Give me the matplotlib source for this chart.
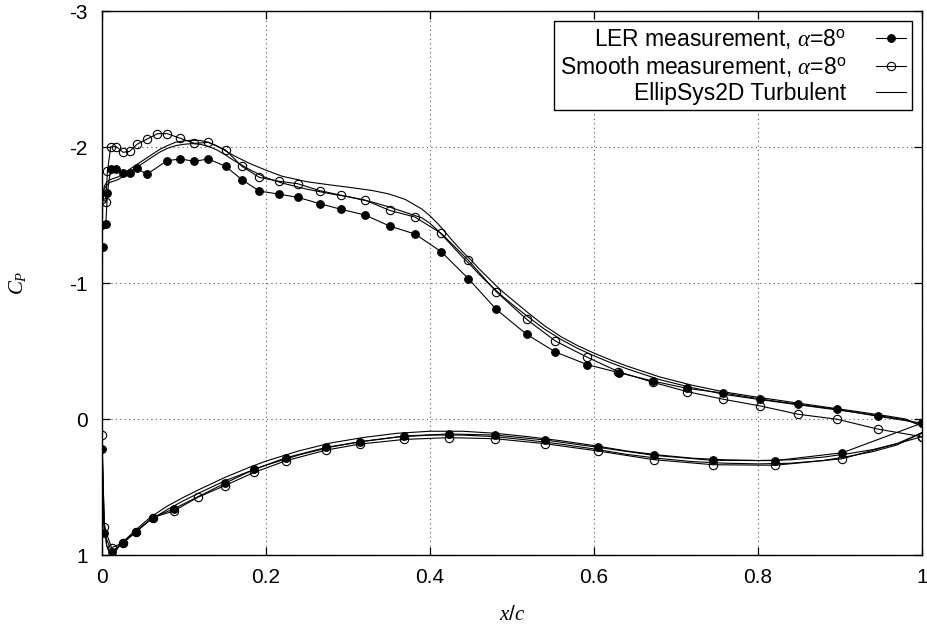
import matplotlib
matplotlib.use("Agg")
import numpy as np
import matplotlib.pyplot as plt
from matplotlib.lines import Line2D

plt.rcParams['font.family'] = ['Liberation Sans', 'DejaVu Sans']
plt.rcParams['mathtext.fontset'] = 'custom'
plt.rcParams['mathtext.rm'] = 'Liberation Sans'
plt.rcParams['mathtext.it'] = 'Liberation Serif:italic'
plt.rcParams['mathtext.cal'] = 'Liberation Serif:italic'
plt.rcParams['axes.unicode_minus'] = False

# LER measurement (filled), upper surface from TE to LE, lower surface from LE to TE
ler_up_x = [1.0, 0.946, 0.897, 0.849, 0.803, 0.758, 0.714, 0.672, 0.631, 0.592,
            0.553, 0.518, 0.481, 0.447, 0.414, 0.382, 0.351, 0.321, 0.292, 0.266,
            0.239, 0.216, 0.192, 0.171, 0.151, 0.130, 0.113, 0.096, 0.080, 0.055,
            0.043, 0.034, 0.026, 0.018, 0.011, 0.007, 0.005, 0.0, 0.001]
ler_up_cp = [0.03, -0.02, -0.071, -0.108, -0.147, -0.191, -0.225, -0.279, -0.34, -0.40,
             -0.493, -0.623, -0.806, -1.032, -1.23, -1.36, -1.419, -1.50, -1.542, -1.583,
             -1.63, -1.654, -1.676, -1.76, -1.858, -1.912, -1.895, -1.912, -1.90, -1.80,
             -1.843, -1.811, -1.811, -1.84, -1.84, -1.664, -1.434, -1.424, -1.267]
ler_lo_x = [0.0, 0.003, 0.012, 0.026, 0.042, 0.062, 0.088, 0.150, 0.186, 0.225,
            0.274, 0.315, 0.369, 0.423, 0.480, 0.540, 0.605, 0.673, 0.745, 0.821,
            0.903, 1.0]
ler_lo_cp = [0.223, 0.84, 0.975, 0.91, 0.828, 0.725, 0.66, 0.473, 0.37, 0.284,
             0.208, 0.167, 0.125, 0.110, 0.118, 0.154, 0.208, 0.267, 0.304, 0.306,
             0.248, 0.03]

# smooth measurement (open)
smo_up_x = [1.0, 0.946, 0.897, 0.849, 0.803, 0.758, 0.714, 0.672, 0.630, 0.592,
            0.553, 0.518, 0.481, 0.447, 0.414, 0.382, 0.351, 0.321, 0.292, 0.266,
            0.239, 0.216, 0.192, 0.171, 0.151, 0.130, 0.113, 0.096, 0.080, 0.068,
            0.055, 0.043, 0.034, 0.026, 0.018, 0.011, 0.007, 0.005, 0.0]
smo_up_cp = [0.13, 0.074, 0.002, -0.035, -0.096, -0.145, -0.201, -0.27, -0.348, -0.454,
             -0.574, -0.733, -0.936, -1.167, -1.365, -1.485, -1.534, -1.61, -1.645, -1.679,
             -1.73, -1.748, -1.777, -1.858, -1.978, -2.034, -2.027, -2.064, -2.098, -2.098,
             -2.057, -2.02, -1.968, -1.961, -2.002, -2.002, -1.824, -1.596, -1.62]
smo_lo_x = [0.0, 0.003, 0.012, 0.026, 0.042, 0.062, 0.088, 0.117, 0.150, 0.186,
            0.225, 0.274, 0.315, 0.369, 0.423, 0.480, 0.540, 0.605, 0.673, 0.745,
            0.821, 0.903, 1.0]
smo_lo_cp = [0.118, 0.792, 0.946, 0.91, 0.83, 0.725, 0.676, 0.576, 0.49, 0.392,
             0.306, 0.228, 0.184, 0.15, 0.137, 0.145, 0.181, 0.235, 0.299, 0.336,
             0.34, 0.292, 0.13]

# EllipSys2D turbulent computations
cfd_up_x = [0.0, 0.001, 0.003, 0.006, 0.01, 0.02, 0.03, 0.04, 0.05, 0.06,
            0.07, 0.08, 0.09, 0.10, 0.11, 0.12, 0.13, 0.14, 0.15, 0.16,
            0.18, 0.20, 0.22, 0.25, 0.28, 0.30, 0.33, 0.35, 0.37, 0.39,
            0.40, 0.41, 0.42, 0.43, 0.44, 0.45, 0.46, 0.47, 0.48, 0.49,
            0.50, 0.52, 0.54, 0.56, 0.58, 0.60, 0.62, 0.64, 0.68, 0.72,
            0.76, 0.80, 0.84, 0.88, 0.92, 0.96, 0.98, 1.0]
cfd_a_up_cp = [-0.3, -1.60, -1.71, -1.74, -1.76, -1.78, -1.82, -1.86, -1.90, -1.94,
               -1.98, -2.01, -2.035, -2.045, -2.05, -2.048, -2.035, -2.01, -1.975, -1.94,
               -1.88, -1.83, -1.785, -1.745, -1.72, -1.705, -1.68, -1.655, -1.615, -1.545,
               -1.495, -1.435, -1.365, -1.295, -1.23, -1.17, -1.105, -1.045, -0.985, -0.93,
               -0.88, -0.78, -0.685, -0.605, -0.54, -0.485, -0.435, -0.39, -0.31, -0.248,
               -0.198, -0.16, -0.125, -0.09, -0.056, -0.02, 0.0, 0.05]
cfd_b_up_cp = [-0.3, -1.58, -1.69, -1.72, -1.74, -1.76, -1.80, -1.84, -1.88, -1.92,
               -1.96, -1.99, -2.01, -2.02, -2.025, -2.02, -2.005, -1.98, -1.945, -1.905,
               -1.835, -1.775, -1.735, -1.69, -1.655, -1.635, -1.595, -1.56, -1.52, -1.48,
               -1.44, -1.385, -1.32, -1.255, -1.19, -1.13, -1.065, -1.005, -0.95, -0.895,
               -0.845, -0.75, -0.66, -0.585, -0.52, -0.465, -0.415, -0.37, -0.29, -0.23,
               -0.18, -0.145, -0.112, -0.08, -0.048, -0.013, 0.007, 0.05]
cfd_lo_x = [0.0, 0.001, 0.003, 0.006, 0.01, 0.014, 0.02, 0.03, 0.04, 0.05,
            0.06, 0.08, 0.10, 0.12, 0.15, 0.18, 0.20, 0.24, 0.28, 0.32,
            0.36, 0.40, 0.44, 0.48, 0.52, 0.56, 0.60, 0.64, 0.68, 0.72,
            0.76, 0.80, 0.84, 0.88, 0.91, 0.94, 0.97, 1.0]
cfd_a_lo_cp = [-0.3, 0.30, 0.75, 0.93, 0.99, 1.0, 0.94, 0.88, 0.825, 0.77,
               0.72, 0.64, 0.575, 0.515, 0.43, 0.355, 0.31, 0.235, 0.175, 0.135,
               0.105, 0.09, 0.09, 0.105, 0.13, 0.16, 0.195, 0.235, 0.265, 0.288,
               0.30, 0.305, 0.30, 0.28, 0.255, 0.225, 0.18, 0.1]
cfd_b_lo_cp = [-0.3, 0.30, 0.75, 0.93, 0.99, 1.0, 0.945, 0.89, 0.835, 0.785,
               0.74, 0.665, 0.60, 0.54, 0.455, 0.385, 0.34, 0.265, 0.205, 0.163,
               0.133, 0.118, 0.118, 0.13, 0.155, 0.185, 0.22, 0.26, 0.29, 0.313,
               0.325, 0.33, 0.325, 0.305, 0.275, 0.24, 0.19, 0.1]

fig = plt.figure(figsize=(9.28, 6.26), dpi=100)
ax = fig.add_axes([0.1096, 0.1134, 0.8839, 0.8690])

lw = 0.8
ax.plot(ler_up_x + ler_lo_x, ler_up_cp + ler_lo_cp, '-o', color='black', lw=lw,
        ms=5.5, mfc='black', mec='black', mew=0.8)
ax.plot(smo_up_x + smo_lo_x, smo_up_cp + smo_lo_cp, '-o', color='black', lw=lw,
        ms=6, mfc='none', mec='black', mew=0.8)
ax.plot(cfd_up_x[::-1] + cfd_lo_x, cfd_a_up_cp[::-1] + cfd_a_lo_cp, '-', color='black', lw=lw)
ax.plot(cfd_up_x[::-1] + cfd_lo_x, cfd_b_up_cp[::-1] + cfd_b_lo_cp, '-', color='black', lw=lw)

ax.set_xlim(0, 1)
ax.set_ylim(1, -3)
ax.set_xticks([0, 0.2, 0.4, 0.6, 0.8, 1])
ax.set_xticklabels(['0', '0.2', '0.4', '0.6', '0.8', '1'])
ax.set_yticks([-3, -2, -1, 0, 1])
ax.set_yticklabels(['-3', '-2', '-1', '0', '1'])
ax.tick_params(direction='in', length=6, width=0.9, top=True, right=True, labelsize=15)
ax.tick_params(axis='x', pad=9)
ax.tick_params(axis='y', pad=10)
ax.grid(True, linestyle=(0, (1, 3)), color='0.35', lw=0.8)
for s in ax.spines.values():
    s.set_linewidth(1.0)

ax.set_xlabel(r'$x/c$', fontsize=15, labelpad=13)
ax.set_ylabel(r'$C_P$', fontsize=15, labelpad=30)

handles = [
    Line2D([], [], color='black', lw=lw, marker='o', ms=5.5, mfc='black', mew=0.8),
    Line2D([], [], color='black', lw=lw, marker='o', ms=6, mfc='none', mew=0.8),
    Line2D([], [], color='black', lw=lw),
]
labels = [r'LER measurement, $\alpha$=8$^{\rm o}$',
          r'Smooth measurement, $\alpha$=8$^{\rm o}$',
          'EllipSys2D Turbulent']
leg = ax.legend(handles, labels, loc='upper right', markerfirst=False, fontsize=16.5,
                frameon=True, fancybox=False, edgecolor='black', framealpha=1,
                handlelength=1.3, handletextpad=1.3, labelspacing=0.12,
                borderaxespad=0.45, borderpad=0.25)
leg.get_frame().set_linewidth(1.0)

fig.savefig('out.png', dpi=100)
